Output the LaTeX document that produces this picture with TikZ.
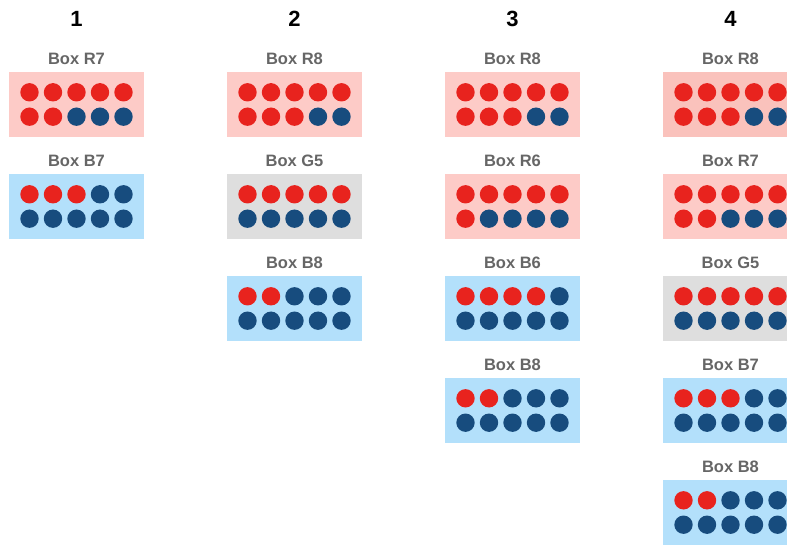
\documentclass[tikz,border=0pt]{standalone}
\usepackage{fontspec}
\setmainfont{Liberation Sans}
\usepackage{tikz}
\usetikzlibrary{positioning}
\definecolor{pinkbox}{HTML}{FDCBC7}
\definecolor{pinkdeep}{HTML}{FAC2BC}
\definecolor{greybox}{HTML}{DEDEDE}
\definecolor{bluebox}{HTML}{B3E0FB}
\definecolor{redball}{HTML}{E8231E}
\definecolor{blueball}{HTML}{174C7E}
\definecolor{labelgrey}{HTML}{666666}

\begin{document}
\begin{tikzpicture}[x=1pt,y=1pt]
\tikzset{box/.style={draw=none,minimum width=135pt,minimum height=65pt,inner sep=0pt},
  boxtitle/.style={text=labelgrey,font=\fontsize{16.5}{19}\selectfont\bfseries,inner sep=0pt},
  colnum/.style={font=\fontsize{22}{26}\selectfont\bfseries,inner sep=0pt}}
\clip (0,0) rectangle (787,-545);
% step numbers
\foreach \col in {1,...,4}
  \node[colnum] (num\col) at ({76.5+218*(\col-1)},-19) {\col};
% boxes: column/row/name/fill/red balls
\foreach \col/\row/\nm/\clr/\nred in {1/1/R7/pinkbox/7, 1/2/B7/bluebox/3,
    2/1/R8/pinkbox/8, 2/2/G5/greybox/5, 2/3/B8/bluebox/2,
    3/1/R8/pinkbox/8, 3/2/R6/pinkbox/6, 3/3/B6/bluebox/4, 3/4/B8/bluebox/2,
    4/1/R8/pinkdeep/8, 4/2/R7/pinkbox/7, 4/3/G5/greybox/5, 4/4/B7/bluebox/3, 4/5/B8/bluebox/2} {
  \node[box,fill=\clr] (box\col\row) at ({76.5+218*(\col-1)},{-104.5-102*(\row-1)}) {};
  \node[boxtitle,above=6.5pt of box\col\row] (title\col\row) {Box \nm};
  \foreach \i in {0,...,9} {
    \pgfmathtruncatemacro{\cx}{mod(\i,5)}
    \pgfmathtruncatemacro{\cy}{div(\i,5)}
    \ifnum\i<\nred \def\ballclr{redball}\else \def\ballclr{blueball}\fi
    \fill[\ballclr] ([shift={({-47+23.5*\cx},{12.2-24.4*\cy})}]box\col\row.center) circle (9.2pt);
  }
}
\end{tikzpicture}
\end{document}
